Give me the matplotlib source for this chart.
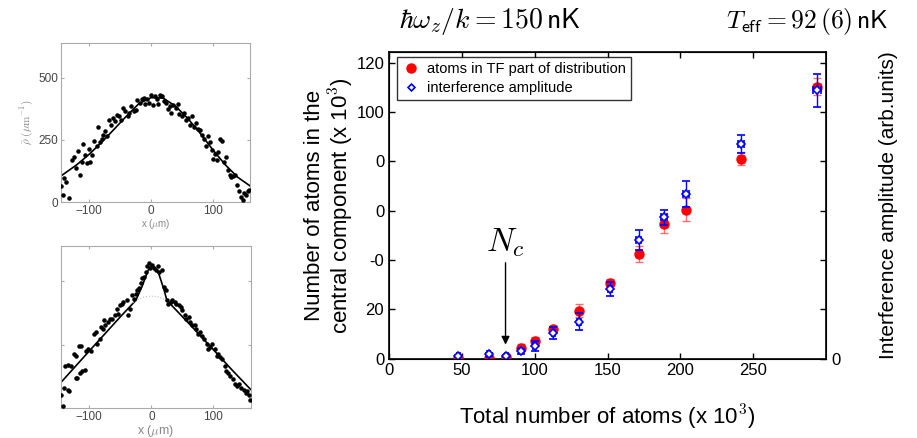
import numpy as np
import matplotlib
matplotlib.use('Agg')
import matplotlib.pyplot as plt
from matplotlib.lines import Line2D

plt.rcParams['font.family'] = ['Liberation Sans', 'DejaVu Sans']
plt.rcParams['mathtext.fontset'] = 'cm'

# ---- main panel data (x 10^3 atoms) ----
n_total = [47.5, 68.5, 80.5, 90.5, 100, 112.9, 130.6, 151.7, 171.3, 188.7, 204.1, 241.6, 293.8]
n_tf = [0.3, 0.3, 0.6, 4.4, 7.1, 11.8, 19.4, 30.8, 42.4, 54.8, 60.5, 81.2, 110.3]
n_tf_err = [0.5, 0.5, 0.5, 1.5, 1.5, 1.5, 2.7, 1.4, 3.4, 4.0, 4.8, 2.8, 3.4]
interf = [1.0, 1.7, 1.0, 3.0, 5.2, 10.2, 14.9, 28.1, 48.1, 57.3, 66.9, 87.0, 108.9]
interf_err = [0.5, 0.5, 0.5, 1.0, 2.0, 2.4, 3.4, 2.9, 4.0, 3.0, 5.3, 3.7, 6.6]
n_total_err = [1.0, 1.0, 1.0, 1.0, 1.2, 1.2, 1.5, 1.5, 1.8, 2.0, 2.0, 2.2, 2.5]

y_ticks = [0, 20, 40, 60, 80, 100, 120]
y_tick_labels = ['0', '20', '-0', '0', '0', '100', '120']
x_ticks = [0, 50, 100, 150, 200, 250]

# ---- small profile panels (x in um, density in um^-1) ----
top_x = [-145, -143, -140, -137, -132, -128, -125, -121, -118, -115, -112, -110, -107, -104,
         -100, -98, -95, -92, -88, -85, -82, -80, -77, -74, -71, -68, -65, -62, -58, -55,
         -52, -48, -45, -42, -38, -35, -32, -28, -25, -22, -18, -15, -12, -9, -6, -3, 0, 3,
         6, 9, 12, 15, 18, 21, 24, 27, 30, 33, 36, 40, 43, 46, 50, 53, 56, 60, 63, 66, 70,
         73, 76, 80, 83, 86, 89, 92, 95, 98, 100, 103, 106, 109, 112, 115, 118, 121, 124,
         127, 130, 133, 136, 139, 142, 145, 148, 150, 153, 156, 158]
top_y = [65, 30, 95, 80, 15, 170, 180, 135, 205, 110, 160, 235, 190, 155,
         215, 160, 190, 245, 225, 300, 240, 255, 270, 285, 265, 330, 310, 340, 325, 350,
         345, 330, 380, 365, 345, 360, 385, 365, 370, 410, 400, 415, 420, 395, 415, 400, 430, 390,
         425, 415, 395, 430, 425, 405, 400, 375, 385, 360, 390, 380, 395, 355, 345, 360, 330, 340, 310, 345, 300,
         320, 295, 290, 270, 255, 225, 265, 240, 210, 175, 195, 170, 200, 255, 245, 160, 180, 130,
         110, 100, 105, 110, 70, 45, 20, 10, 35, 30, 45, 50]
top_fit_x = [-146, -120, -100, -80, -60, -40, -20, 0, 20, 40, 60, 80, 100, 120, 140, 160]
top_fit_y = [104, 150, 192, 240, 292, 345, 395, 420, 418, 385, 335, 275, 210, 150, 100, 65]

bot_x = [-146, -143, -140, -134, -132, -139, -135, -130, -122, -119, -125, -122, -117, -114,
         -115, -111, -107, -106, -102, -97, -92, -89, -87, -83, -81, -78, -77, -74, -70, -67,
         -63, -59, -55, -53, -51, -47, -45, -40, -38, -34, -31, -28, -25, -23, -20, -16, -15,
         -12, -9, -7, -4, -2, 1, 4, 7, 11, 13, 17, 20, 23, 25, 27, 31, 34, 38, 40, 44, 47, 50,
         54, 56, 60, 63, 66, 70, 72, 75, 78, 81, 84, 89, 91, 95, 98, 102, 105, 108, 111, 114,
         118, 121, 124, 127, 132, 134, 138, 141, 145, 149, 152, 154, 157, 159]
bot_y = [53, 9, 77, 73, 67, 166, 170, 166, 117, 117, 213, 206, 243, 246,
         140, 146, 150, 226, 233, 226, 293, 299, 253, 273, 319, 313, 346, 326, 339, 352,
         352, 366, 392, 372, 406, 412, 419, 426, 366, 392, 446, 432, 452, 466, 472, 492, 512,
         519, 539, 559, 572, 552, 565, 552, 545, 559, 539, 545, 479, 466, 426, 412, 419, 426, 419, 412, 406, 399, 386,
         366, 352, 359, 339, 326, 326, 313, 293, 299, 286, 273, 253, 233, 239, 253, 233, 206, 213, 200, 193,
         166, 146, 140, 126, 113, 93, 86, 93, 80, 73, 60, 67, 53, 33]
bot_fit_x = [-146, -100, -50, -25, -15, -5, 0, 5, 12, 20, 25, 60, 100, 130, 160]
bot_fit_y = [100, 225, 360, 425, 480, 545, 560, 555, 530, 470, 425, 335, 230, 150, 73]
thermal_x = [-30, -20, -10, 0, 10, 20, 30]
thermal_y = [415, 430, 440, 442, 440, 430, 415]

fig = plt.figure(figsize=(9.17, 4.38), dpi=100)

gray = '#888888'


def style_small(ax, show_ylabels):
    ax.set_xlim(-146, 160)
    ax.set_ylim(0, 640)
    ax.set_xticks([-100, 0, 100])
    ax.set_yticks([0, 250, 500])
    for s in ax.spines.values():
        s.set_color('#aaaaaa')
        s.set_linewidth(0.8)
    ax.tick_params(direction='in', length=2, colors='#aaaaaa', labelcolor='#444444',
                   labelsize=8.5, top=True, right=True, pad=2)
    if not show_ylabels:
        ax.set_yticklabels([])
    ax.set_xlabel(r'x ($\mu$m)', fontsize=7, color=gray, labelpad=0)


ax1 = fig.add_axes([0.0662, 0.5388, 0.2064, 0.363])
ax1.scatter(top_x, top_y, s=5, color='black', zorder=3)
ax1.plot(top_fit_x, top_fit_y, color='black', lw=1.2)
style_small(ax1, True)
ax1.set_ylabel(r'$\bar{\rho}\ (\mu\mathrm{m}^{-1})$', fontsize=8, color=gray, labelpad=2)

ax2 = fig.add_axes([0.0662, 0.0685, 0.2072, 0.370])
ax2.scatter(bot_x, bot_y, s=5, color='black', zorder=3)
ax2.plot(bot_fit_x, bot_fit_y, color='black', lw=1.2)
ax2.plot(thermal_x, thermal_y, color='#bbbbbb', lw=0.8, ls=':')
style_small(ax2, False)
ax2.set_xlabel(r'x ($\mu$m)', fontsize=9, color=gray, labelpad=0)

# ---- main panel ----
ax = fig.add_axes([0.4242, 0.1815, 0.4766, 0.700])
ax.errorbar(n_total, n_tf, yerr=n_tf_err, xerr=n_total_err, fmt='o', color='red',
            ecolor=(1, 0.3, 0.3, 0.8), markersize=6.5, capsize=3, elinewidth=1, zorder=3)
ax.errorbar(n_total, interf, yerr=interf_err, xerr=n_total_err, fmt='D', color='blue',
            mfc='white', mec='blue', markersize=4, mew=1.2, capsize=3, elinewidth=1, zorder=4)
ax.set_xlim(0, 300)
ax.set_ylim(0, 124.5)
ax.set_xticks(x_ticks)
ax.set_yticks(y_ticks)
ax.set_yticklabels(y_tick_labels)
ax.tick_params(direction='in', length=4, labelsize=12, top=True, right=False, width=1)
for s in ax.spines.values():
    s.set_linewidth(1.2)
ax.set_xlabel(r'Total number of atoms (x 10$^3$)', fontsize=16, labelpad=18)
ax.set_ylabel('Number of atoms in the\ncentral component (x 10$^3$)', fontsize=16,
              labelpad=0, linespacing=1.1)

ax.annotate('', xy=(80, 4.5), xytext=(80, 40),
            arrowprops=dict(arrowstyle='-|>', color='black', lw=1, mutation_scale=12))
ax.text(80, 47, r'$N_c$', fontsize=24, ha='center', va='center')

handles = [Line2D([], [], ls='none', marker='o', color='red', markersize=6.5),
           Line2D([], [], ls='none', marker='D', mfc='white', mec='blue', markersize=3.5, mew=1.2)]
labels = ['atoms in TF part of distribution', 'interference amplitude']
leg = ax.legend(handles, labels, loc='upper left', fontsize=10.5, frameon=True, fancybox=False,
                handlelength=1.2, handletextpad=0.5, borderpad=0.35, labelspacing=0.35,
                bbox_to_anchor=(0.018, 0.985), borderaxespad=0)
leg.get_frame().set_edgecolor('black')
leg.get_frame().set_linewidth(1)

ax_r = ax.twinx()
ax_r.set_ylim(ax.get_ylim())
ax_r.set_yticks(y_ticks)
ax_r.set_yticklabels(['0'] + [''] * (len(y_ticks) - 1))
ax_r.tick_params(direction='in', length=4, labelsize=12, width=1)
ax_r.set_ylabel('Interference amplitude (arb.units)', fontsize=15, labelpad=28)

fig.text(0.534, 0.952, r'$\hbar\omega_z/k = \mathsf{150}\,\mathsf{nK}$', fontsize=20,
         ha='center', va='center')
fig.text(0.880, 0.952, r'$T_{\mathsf{eff}} = \mathsf{92}\,(\mathsf{6})\,\mathsf{nK}$', fontsize=18.5,
         ha='center', va='center')

fig.savefig('out.png', dpi=100)
